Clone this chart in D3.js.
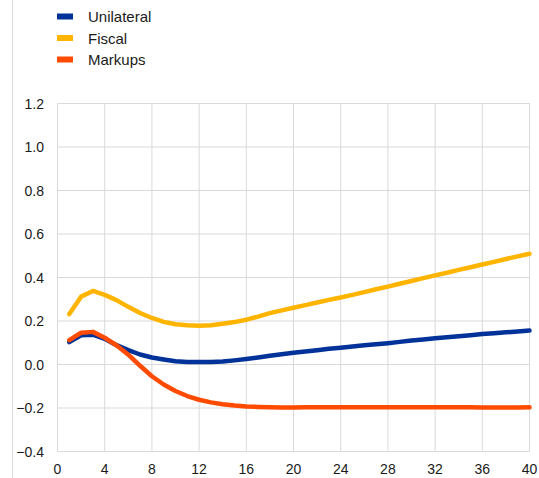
<!DOCTYPE html>
<html>
<head>
<meta charset="utf-8">
<script src="https://cdn.jsdelivr.net/npm/d3@7"></script>
<style>
  body { margin: 0; background: #fff; }
  svg { font-family: Arial, "Liberation Sans", sans-serif; }
</style>
</head>
<body>
<div id="chart"></div>
<script>
// Chart Data
const quarters = d3.range(1, 41);
const unilateral = [0.103, 0.134, 0.137, 0.118, 0.089, 0.066, 0.046, 0.032, 0.023, 0.015,
  0.012, 0.011, 0.012, 0.014, 0.019, 0.025, 0.032, 0.040, 0.047, 0.054,
  0.060, 0.066, 0.072, 0.077, 0.083, 0.088, 0.093, 0.098, 0.104, 0.110,
  0.115, 0.121, 0.125, 0.130, 0.135, 0.140, 0.144, 0.148, 0.152, 0.156];
const fiscal = [0.232, 0.312, 0.338, 0.320, 0.296, 0.265, 0.237, 0.214, 0.196, 0.185,
  0.180, 0.178, 0.180, 0.187, 0.195, 0.206, 0.220, 0.236, 0.249, 0.261,
  0.273, 0.285, 0.297, 0.308, 0.320, 0.333, 0.346, 0.358, 0.371, 0.384,
  0.397, 0.410, 0.422, 0.435, 0.447, 0.460, 0.472, 0.485, 0.497, 0.509];
const markups = [0.112, 0.146, 0.150, 0.123, 0.088, 0.045, -0.006, -0.054, -0.092, -0.122,
  -0.145, -0.162, -0.174, -0.183, -0.189, -0.193, -0.195, -0.197, -0.198, -0.198,
  -0.197, -0.197, -0.196, -0.196, -0.196, -0.196, -0.196, -0.196, -0.196, -0.196,
  -0.197, -0.197, -0.197, -0.197, -0.197, -0.198, -0.198, -0.198, -0.198, -0.197];
const seriesNames = ["Unilateral", "Fiscal", "Markups"];
const seriesColors = ["#003299", "#ffb400", "#ff4b00"];
const xTicks = d3.range(0, 41, 4);
const yTicks = [-0.4, -0.2, 0.0, 0.2, 0.4, 0.6, 0.8, 1.0, 1.2];

// Dimensions
const w = 539, h = 478;
const svg = d3.select("#chart").append("svg").attr("width", w).attr("height", h);

// Scales
const x = d3.scaleLinear().domain([0, 40]).range([57.5, 529.5]);
const y = d3.scaleLinear().domain([-0.4, 1.2]).range([451.5, 103.5]);

// Left Divider Line
svg.append("line").attr("x1", 12.5).attr("x2", 12.5).attr("y1", 0).attr("y2", h)
  .attr("stroke", "#d9d9d9").attr("stroke-width", 1);

// Gridlines
svg.append("g").selectAll("line").data(yTicks).enter().append("line")
  .attr("x1", x(0)).attr("x2", x(40)).attr("y1", d => y(d)).attr("y2", d => y(d))
  .attr("stroke", "#d9d9d9").attr("stroke-width", 1);
svg.append("g").selectAll("line").data(xTicks).enter().append("line")
  .attr("x1", d => x(d)).attr("x2", d => x(d)).attr("y1", y(1.2)).attr("y2", y(-0.4))
  .attr("stroke", "#d9d9d9").attr("stroke-width", 1);

// Axis Labels
svg.append("g").selectAll("text").data(yTicks).enter().append("text")
  .attr("x", 44).attr("y", d => y(d) + 5).attr("text-anchor", "end")
  .attr("font-size", 14).attr("fill", "#1a1a1a").text(d => d3.format(".1f")(d));
svg.append("g").selectAll("text").data(xTicks).enter().append("text")
  .attr("x", d => x(d)).attr("y", 474).attr("text-anchor", "middle")
  .attr("font-size", 14).attr("fill", "#1a1a1a").text(d => d);

// Lines
const line = d3.line().x((d, i) => x(quarters[i])).y(d => y(d));
[unilateral, fiscal, markups].forEach((s, i) => {
  svg.append("path").datum(s).attr("d", line).attr("fill", "none")
    .attr("stroke", seriesColors[i]).attr("stroke-width", 4.5)
    .attr("stroke-linejoin", "round").attr("stroke-linecap", "round");
});

// Legend
const legend = svg.append("g").selectAll("g").data(seriesNames).enter().append("g")
  .attr("transform", (d, i) => "translate(57," + (16.5 + i * 21.5) + ")");
legend.append("rect").attr("x", 0).attr("y", -3).attr("width", 16).attr("height", 6)
  .attr("fill", (d, i) => seriesColors[i]);
legend.append("text").attr("x", 31).attr("y", 5.5).attr("font-size", 15)
  .attr("fill", "#1a1a1a").text(d => d);
</script>
</body>
</html>
